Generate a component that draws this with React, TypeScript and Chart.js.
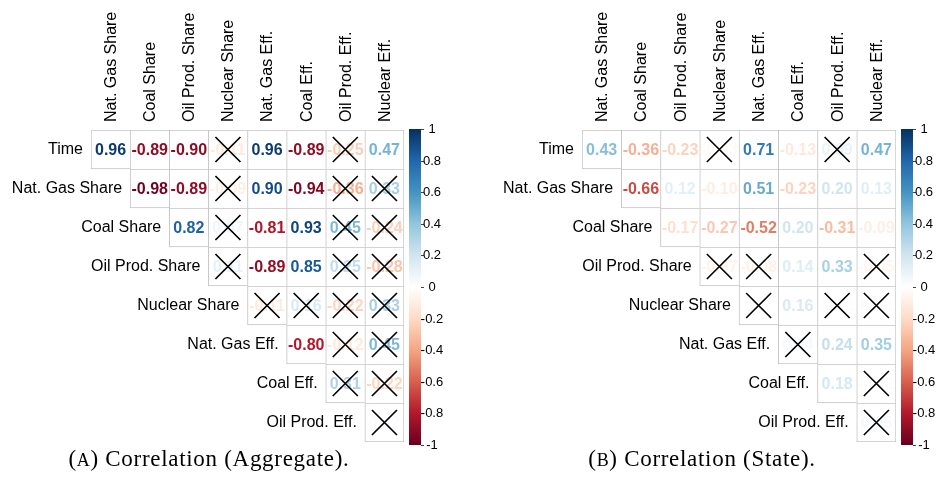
import React, { useEffect, useRef } from "react";
import { Chart, registerables } from "chart.js";

Chart.register(...registerables);

// ---------- labels ----------
const rowLabels = [
  "Time",
  "Nat. Gas Share",
  "Coal Share",
  "Oil Prod. Share",
  "Nuclear Share",
  "Nat. Gas Eff.",
  "Coal Eff.",
  "Oil Prod. Eff.",
];
const colLabels = [
  "Nat. Gas Share",
  "Coal Share",
  "Oil Prod. Share",
  "Nuclear Share",
  "Nat. Gas Eff.",
  "Coal Eff.",
  "Oil Prod. Eff.",
  "Nuclear Eff.",
];
const colorbarTicks = [1, 0.8, 0.6, 0.4, 0.2, 0, -0.2, -0.4, -0.6, -0.8, -1];
const colorbarTickLabels = ["1", "0.8", "0.6", "0.4", "0.2", "0", "-0.2", "-0.4", "-0.6", "-0.8", "-1"];

// ---------- (A) aggregate: each row lists its cells from its own column onward ----------
const aggTime = [0.96, -0.89, -0.9, -0.11, 0.96, -0.89, -0.25, 0.47];
const aggNatGasShare = [-0.98, -0.89, -0.09, 0.9, -0.94, -0.36, 0.33];
const aggCoalShare = [0.82, 0.07, -0.81, 0.93, 0.45, -0.24];
const aggOilProdShare = [0.11, -0.89, 0.85, 0.25, -0.28];
const aggNuclearShare = [-0.11, 0.16, -0.22, 0.33];
const aggNatGasEff = [-0.8, -0.12, 0.45];
const aggCoalEff = [0.31, -0.22];
const aggOilProdEff = [0.02];
// columns crossed out (not significant), per row
const aggCrossed = [[3, 6], [3, 6, 7], [3, 6, 7], [3, 6, 7], [4, 5, 6, 7], [6, 7], [6, 7], [7]];

// ---------- (B) state ----------
const stTime = [0.43, -0.36, -0.23, -0.03, 0.71, -0.13, 0.09, 0.47];
const stNatGasShare = [-0.66, 0.12, -0.1, 0.51, -0.23, 0.2, 0.13];
const stCoalShare = [-0.17, -0.27, -0.52, 0.2, -0.31, -0.09];
const stOilProdShare = [-0.07, -0.08, 0.14, 0.33, -0.05];
const stNuclearShare = [0.01, 0.16, -0.01, 0.02];
const stNatGasEff = [0.04, 0.24, 0.35];
const stCoalEff = [0.18, -0.02];
const stOilProdEff = [0.05];
const stCrossed = [[3, 6], [], [], [3, 4, 7], [4, 6, 7], [5], [7], [7]];

const aggRows = [aggTime, aggNatGasShare, aggCoalShare, aggOilProdShare, aggNuclearShare, aggNatGasEff, aggCoalEff, aggOilProdEff];
const stRows = [stTime, stNatGasShare, stCoalShare, stOilProdShare, stNuclearShare, stNatGasEff, stCoalEff, stOilProdEff];

// ---------- style ----------
const palette = ["#67001F", "#B2182B", "#D6604D", "#F4A582", "#FDDBC7", "#FFFFFF", "#D1E5F0", "#92C5DE", "#4393C3", "#2166AC", "#053061"];
const SANS = '"Liberation Sans", Arial, Helvetica, sans-serif';

function hexToRgb(h: string) {
  return [parseInt(h.slice(1, 3), 16), parseInt(h.slice(3, 5), 16), parseInt(h.slice(5, 7), 16)];
}
function corrColor(v: number) {
  const p = Math.max(0, Math.min(10, ((v + 1) / 2) * 10));
  const i = Math.min(9, Math.floor(p));
  const t = p - i;
  const a = hexToRgb(palette[i]);
  const b = hexToRgb(palette[i + 1]);
  const c = a.map((x, k) => Math.round(x + (b[k] - x) * t));
  return `rgb(${c[0]},${c[1]},${c[2]})`;
}

function makePlugin(rows: number[][]) {
  return {
    id: "corrLayer",
    beforeDatasetDraw(chart: any, args: any) {
      if (args.meta.type !== "scatter") return;
      const ctx = chart.ctx;
      const xs = chart.scales.x;
      const ys = chart.scales.y;
      ctx.save();
      ctx.font = `bold 16px ${SANS}`;
      ctx.textAlign = "center";
      ctx.textBaseline = "middle";
      rows.forEach((vals, r) =>
        vals.forEach((v, k) => {
          const c = r + k;
          ctx.fillStyle = corrColor(v);
          ctx.fillText(v.toFixed(2), xs.getPixelForValue(c), ys.getPixelForValue(r) + 1);
        })
      );
      ctx.restore();
    },
    afterDraw(chart: any) {
      const ctx = chart.ctx;
      const xs = chart.scales.x;
      const ys = chart.scales.y;
      const cb = chart.scales.cb;
      const area = chart.chartArea;
      ctx.save();
      ctx.fillStyle = "#000";
      ctx.font = `16px ${SANS}`;
      // row labels
      ctx.textAlign = "right";
      ctx.textBaseline = "middle";
      rowLabels.forEach((lab, r) => {
        ctx.fillText(lab, xs.getPixelForValue(r - 0.5) - 8, ys.getPixelForValue(r));
      });
      // column labels
      colLabels.forEach((lab, c) => {
        ctx.save();
        ctx.translate(xs.getPixelForValue(c) + 1, area.top - 8);
        ctx.rotate(-Math.PI / 2);
        ctx.textAlign = "left";
        ctx.textBaseline = "middle";
        ctx.fillText(lab, 0, 0);
        ctx.restore();
      });
      // colorbar
      const top = cb.getPixelForValue(1) - 1;
      const bottom = cb.getPixelForValue(-1) + 3;
      const x0 = area.right + 5;
      const w = 12;
      const grad = ctx.createLinearGradient(0, bottom, 0, top);
      palette.forEach((col, i) => grad.addColorStop(i / (palette.length - 1), col));
      ctx.fillStyle = grad;
      ctx.fillRect(x0, top, w, bottom - top);
      ctx.strokeStyle = "#444";
      ctx.lineWidth = 1;
      ctx.font = `13px ${SANS}`;
      ctx.textAlign = "center";
      ctx.textBaseline = "middle";
      ctx.fillStyle = "#000";
      colorbarTicks.forEach((t, i) => {
        const y = Math.round(top + ((1 - t) / 2) * (bottom - top)) + 0.5;
        ctx.beginPath();
        ctx.moveTo(x0 + w, y);
        ctx.lineTo(x0 + w + 3, y);
        ctx.stroke();
        ctx.fillText(colorbarTickLabels[i], x0 + w + 11, y);
      });
      ctx.restore();
    },
  };
}

function buildConfig(rows: number[][], crossed: number[][], pad: any) {
  const barDatasets = rows.map((_vals, r) => ({
    type: "bar",
    label: rowLabels[r],
    data: colLabels.map((_, c) => (c >= r ? [r - 0.5, r + 0.5] : null)),
    backgroundColor: "#ffffff",
    borderColor: "#c4c4c4",
    borderWidth: (ctx: any) => ({
      top: 1,
      left: 1,
      right: ctx.dataIndex === colLabels.length - 1 ? 1 : 0,
      bottom: ctx.dataIndex === r ? 1 : 0,
    }),
    borderSkipped: false,
    grouped: false,
    barPercentage: 1,
    categoryPercentage: 1,
    order: 2,
  }));
  const crossData: any[] = [];
  crossed.forEach((cols, r) => cols.forEach((c) => crossData.push({ x: colLabels[c], y: r })));
  const crossDataset = {
    type: "scatter",
    label: "not significant",
    data: crossData,
    pointStyle: "crossRot",
    pointRadius: 17.7,
    pointHoverRadius: 17.7,
    pointBorderColor: "#000",
    pointBackgroundColor: "#000",
    pointBorderWidth: 1.7,
    order: 1,
  };
  return {
    type: "bar",
    data: { labels: colLabels, datasets: [crossDataset, ...barDatasets] },
    options: {
      animation: false,
      responsive: false,
      maintainAspectRatio: false,
      events: [],
      layout: { padding: pad },
      plugins: { legend: { display: false }, tooltip: { enabled: false } },
      scales: {
        x: { type: "category", display: false, offset: true },
        y: { type: "linear", display: false, min: -0.5, max: 7.5, reverse: true },
        cb: { type: "linear", axis: "y", position: "right", display: false, min: -1, max: 1 },
      },
    },
    plugins: [makePlugin(rows)],
  };
}

function Panel({ rows, crossed, left, pad }: { rows: number[][]; crossed: number[][]; left: number; pad: any }) {
  const ref = useRef<HTMLCanvasElement>(null);
  useEffect(() => {
    if (!ref.current) return;
    const chart = new Chart(ref.current, buildConfig(rows, crossed, pad) as any);
    return () => chart.destroy();
  }, []);
  return (
    <canvas
      ref={ref}
      width={468}
      height={491}
      style={{ position: "absolute", left, top: 0, width: 468, height: 491 }}
    />
  );
}

const captionStyle: React.CSSProperties = {
  position: "absolute",
  top: 446,
  textAlign: "center",
  fontFamily: '"Liberation Serif", "Times New Roman", serif',
  fontSize: 23,
  lineHeight: "26px",
  letterSpacing: "0.7px",
  color: "#000",
  whiteSpace: "nowrap",
};

export default function App() {
  return (
    <div style={{ position: "absolute", left: 0, top: 0, width: 936, height: 491, overflow: "hidden", background: "#fff" }}>
      <Panel rows={aggRows} crossed={aggCrossed} left={0} pad={{ left: 91, right: 64, top: 130, bottom: 49 }} />
      <Panel rows={stRows} crossed={stCrossed} left={468} pad={{ left: 114, right: 40, top: 130, bottom: 49 }} />
      <div style={{ ...captionStyle, left: 0, width: 418 }}>
        (<span style={{ fontSize: "0.78em" }}>A</span>) Correlation (Aggregate).
      </div>
      <div style={{ ...captionStyle, left: 468, width: 468 }}>
        (<span style={{ fontSize: "0.78em" }}>B</span>) Correlation (State).
      </div>
    </div>
  );
}
